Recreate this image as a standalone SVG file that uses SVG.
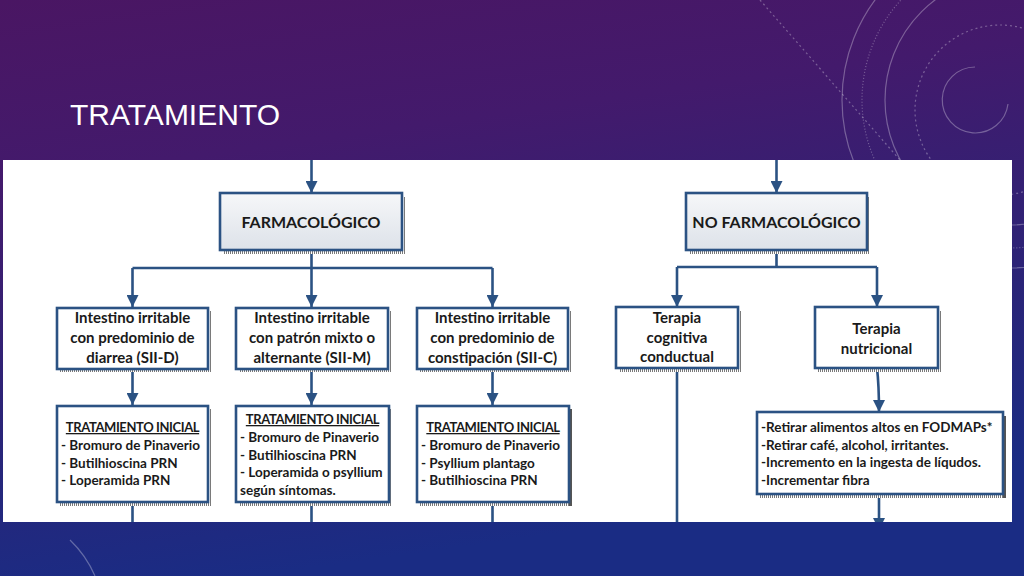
<svg xmlns="http://www.w3.org/2000/svg" width="1024" height="576" viewBox="0 0 1024 576">
<defs>
<linearGradient id="bg" x1="0" y1="0" x2="0.25" y2="1">
<stop offset="0" stop-color="#4a1663"/>
<stop offset="0.3" stop-color="#431a6c"/>
<stop offset="0.7" stop-color="#2a2478"/>
<stop offset="1" stop-color="#1a2c84"/>
</linearGradient>
<linearGradient id="hdr" x1="0" y1="0" x2="0" y2="1">
<stop offset="0" stop-color="#f6f7f9"/>
<stop offset="1" stop-color="#dde2e9"/>
</linearGradient>
<pattern id="hatch" width="2" height="4" patternUnits="userSpaceOnUse">
<rect width="2" height="4" fill="#ffffff"/>
<rect width="1" height="4" fill="#7a7a7a"/>
</pattern>
<clipPath id="panel"><rect x="3" y="160" width="1009" height="362"/></clipPath>
<marker id="arr" viewBox="0 0 10 10" refX="10" refY="5" markerWidth="12" markerHeight="12" markerUnits="userSpaceOnUse" orient="auto">
<path d="M0,0 L10,5 L0,10 z" fill="#2b5283"/>
</marker>
<style>
.box{fill:#ffffff;stroke:#2b5283;stroke-width:2.6}
.hbox{fill:url(#hdr);stroke:#2b5283;stroke-width:2.6}
.sh{fill:url(#hatch)}
.t{font-family:Lato,"Liberation Sans",sans-serif;font-weight:700;fill:#1a1a1a}
.c{text-anchor:middle;font-size:15px}
.h{text-anchor:middle;font-size:16px}
.s{font-size:13.5px}
.u{text-decoration:underline;font-size:13px;letter-spacing:-0.4px;text-anchor:middle}
.ln{fill:none;stroke:#2b5283;stroke-width:2.6}
.deco{fill:none;stroke:#ffffff;stroke-opacity:0.3;stroke-width:1.2}
</style>
</defs>
<rect width="1024" height="576" fill="url(#bg)"/>
<g id="background-decor">
<circle class="deco" cx="1010" cy="100" r="168"/>
<circle class="deco" cx="1010" cy="100" r="148" stroke-dasharray="1 2" stroke-opacity="0.2" stroke-width="5"/>
<circle class="deco" cx="1010" cy="100" r="125"/>
<circle class="deco" cx="1000" cy="110" r="85" stroke-dasharray="2 3" stroke-opacity="0.2"/>
<path class="deco" d="M975,67 A33,33 0 1 0 1008,104"/>
<path class="deco" d="M760,0 L900,160" stroke-dasharray="2 3" stroke-opacity="0.2"/>
<path class="deco" d="M70,540 A110,110 0 0 1 95,576" stroke-opacity="0.18"/>
</g>
<text id="title" x="70" y="125" font-family="'Liberation Sans',Arial,sans-serif" font-size="30" fill="#ffffff">TRATAMIENTO</text>
<rect x="3" y="160" width="1009" height="362" fill="#ffffff"/>
<g clip-path="url(#panel)">
<g id="connectors">
<path class="ln" d="M311.5,160 V193" marker-end="url(#arr)"/>
<path class="ln" d="M776.5,160 V193" marker-end="url(#arr)"/>
<path class="ln" d="M311.5,250 V268 M132.5,268 H492.5"/>
<path class="ln" d="M132.5,268 V307" marker-end="url(#arr)"/>
<path class="ln" d="M311.5,268 V307" marker-end="url(#arr)"/>
<path class="ln" d="M492.5,268 V307" marker-end="url(#arr)"/>
<path class="ln" d="M132.5,369 V405" marker-end="url(#arr)"/>
<path class="ln" d="M311.5,369 V405" marker-end="url(#arr)"/>
<path class="ln" d="M492.5,369 V405" marker-end="url(#arr)"/>
<path class="ln" d="M132.5,502 V530 M311.5,502 V530 M492.5,502 V530"/>
<path class="ln" d="M776.5,250 V267 M677,267 H877"/>
<path class="ln" d="M677,267 V307" marker-end="url(#arr)"/>
<path class="ln" d="M877,267 V307" marker-end="url(#arr)"/>
<path class="ln" d="M677,368 V530"/>
<path class="ln" d="M877,368 C879,385 879,395 879,412" marker-end="url(#arr)"/>
<path class="ln" d="M879,494 V530" marker-end="url(#arr)"/>
</g>
<g id="farmacologico">
<rect class="sh" x="223" y="197" width="182" height="57"/>
<rect class="hbox" x="220" y="193" width="182" height="57"/>
<text class="t h" x="311" y="228">FARMACOLÓGICO</text>
</g>
<g id="no-farmacologico">
<rect class="sh" x="689" y="197" width="181" height="57"/>
<rect class="hbox" x="686" y="193" width="181" height="57"/>
<text class="t h" x="776.5" y="228">NO FARMACOLÓGICO</text>
</g>
<g id="sii-d">
<rect class="sh" x="60" y="311" width="151" height="61"/>
<rect class="box" x="57" y="308" width="151" height="61"/>
<text class="t c" x="132.5" y="323">Intestino irritable</text>
<text class="t c" x="132.5" y="343">con predominio de</text>
<text class="t c" x="132.5" y="363">diarrea (SII-D)</text>
</g>
<g id="sii-m">
<rect class="sh" x="239" y="311" width="152" height="61"/>
<rect class="box" x="236" y="308" width="152" height="61"/>
<text class="t c" x="312" y="323">Intestino irritable</text>
<text class="t c" x="312" y="343">con patrón mixto o</text>
<text class="t c" x="312" y="363">alternante (SII-M)</text>
</g>
<g id="sii-c">
<rect class="sh" x="420" y="311" width="151" height="61"/>
<rect class="box" x="417" y="308" width="151" height="61"/>
<text class="t c" x="492.5" y="323">Intestino irritable</text>
<text class="t c" x="492.5" y="343">con predominio de</text>
<text class="t c" x="492.5" y="363">constipación (SII-C)</text>
</g>
<g id="tratamiento-d">
<rect class="sh" x="60" y="409" width="151" height="97"/>
<rect class="box" x="57" y="406" width="151" height="96"/>
<text class="t u" x="132.5" y="432">TRATAMIENTO INICIAL</text>
<text class="t s" x="61" y="450">- Bromuro de Pinaverio</text>
<text class="t s" x="61" y="467.5">- Butilhioscina PRN</text>
<text class="t s" x="61" y="485">- Loperamida PRN</text>
</g>
<g id="tratamiento-m">
<rect class="sh" x="239" y="409" width="153" height="97"/>
<rect class="box" x="236" y="406" width="153" height="96"/>
<text class="t u" x="312.5" y="424">TRATAMIENTO INICIAL</text>
<text class="t s" x="240" y="442">- Bromuro de Pinaverio</text>
<text class="t s" x="240" y="459.5">- Butilhioscina PRN</text>
<text class="t s" x="240" y="477">- Loperamida o psyllium</text>
<text class="t s" x="240" y="494.5">según síntomas.</text>
</g>
<g id="tratamiento-c">
<rect class="sh" x="420" y="409" width="152" height="97"/>
<rect x="569" y="409" width="3" height="97" fill="#555555"/>
<rect class="box" x="417" y="406" width="152" height="96"/>
<text class="t u" x="493" y="432">TRATAMIENTO INICIAL</text>
<text class="t s" x="421" y="450">- Bromuro de Pinaverio</text>
<text class="t s" x="421" y="467.5">- Psyllium plantago</text>
<text class="t s" x="421" y="485">- Butilhioscina PRN</text>
</g>
<g id="terapia-cognitiva">
<rect class="sh" x="619" y="311" width="122" height="61"/>
<rect class="box" x="616" y="307" width="122" height="61"/>
<text class="t c" x="677" y="323">Terapia</text>
<text class="t c" x="677" y="343">cognitiva</text>
<text class="t c" x="677" y="362">conductual</text>
</g>
<g id="terapia-nutricional">
<rect class="sh" x="818" y="311" width="123" height="61"/>
<rect class="box" x="815" y="307" width="123" height="61"/>
<text class="t c" x="876.5" y="334">Terapia</text>
<text class="t c" x="876.5" y="354">nutricional</text>
</g>
<g id="fodmaps">
<rect class="sh" x="760" y="416" width="246" height="82"/>
<rect x="1003" y="416" width="3" height="82" fill="#555555"/>
<rect class="box" x="757" y="412" width="246" height="82"/>
<text class="t s" x="761" y="432">-Retirar alimentos altos en FODMAPs*</text>
<text class="t s" x="761" y="450">-Retirar café, alcohol, irritantes.</text>
<text class="t s" x="761" y="467">-Incremento en la ingesta de líqudos.</text>
<text class="t s" x="761" y="485">-Incrementar fibra</text>
</g>
</g>
</svg>
